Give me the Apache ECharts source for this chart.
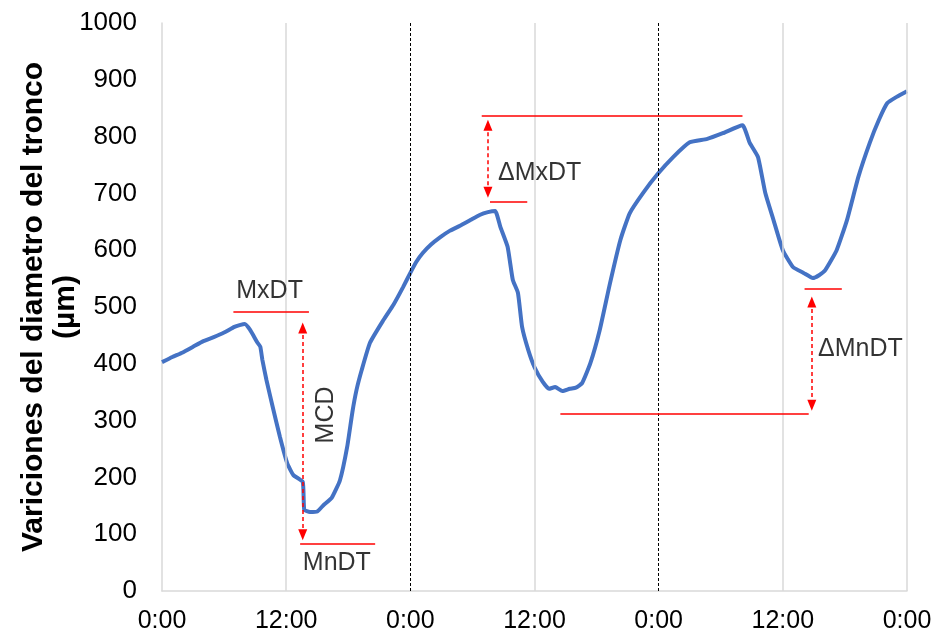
<!DOCTYPE html>
<html>
<head>
<meta charset="utf-8">
<script src="https://cdn.jsdelivr.net/npm/echarts@6/dist/echarts.min.js"></script>
<style>
html,body{margin:0;padding:0;background:#fff;}
#chart{width:939px;height:641px;}
</style>
</head>
<body>
<div id="chart"></div>
<script>
// Time in hours from start (3 days), stem diameter variation in µm
var hours = [0,1,2,3,4,5,6,7,7.5,8,8.5,9.2,9.5,9.7,10.1,10.7,11.4,12.1,12.7,13.6,13.75,14.3,15.0,15.6,16.4,17.2,17.9,18.4,18.8,19.3,20.1,21.4,22.4,23.3,24,24.6,25.2,26,26.9,27.8,28.8,29.8,30.7,31.5,32.2,32.7,33.4,33.9,34.4,34.8,35.4,36.0,36.8,37.4,38.0,38.7,39.4,40.0,40.6,41.4,42.3,43.3,44.3,45.2,46.5,47.9,49.4,51.0,52.7,54.2,56.1,56.8,57.6,58.3,59.1,60.0,61.0,62.0,62.9,63.5,64.1,65.2,66.2,67.3,68.4,69.3,70.1,71,72];
var diameter = [403,412,420,430,440,447,455,465,468,470,460,438,430,407,371,324,271,225,204,192,143,139,140,151,164,195,254,315,354,389,437,477,505,535,560,580,595,610,623,634,643,653,662,667,669,641,606,548,525,465,424,394,368,356,359,352,356,358,366,401,459,542,618,665,701,734,764,790,796,806,820,789,764,701,653,600,570,560,551,556,565,600,653,729,789,830,859,870,880];

var xTicks = [0,12,24,36,48,60,72];
var yTicks = [0,100,200,300,400,500,600,700,800,900,1000];
var noonLines = [12,36,60,72];
var midnightLines = [24,48];

// Annotation reference lines: [startHour, endHour, value]
var refLines = [
  [6.9, 14.2, 491],   // MxDT
  [13.35, 20.6, 83],  // MnDT
  [30.9, 56.1, 836],  // ΔMxDT upper
  [31.7, 35.3, 685],  // ΔMxDT lower
  [38.5, 62.5, 312],  // ΔMnDT lower
  [62.1, 65.7, 532]   // ΔMnDT upper
];
// Double arrows: [hour, fromValue, toValue]
var arrows = [
  [13.6, 463, 99],    // MCD
  [31.5, 820, 702],   // ΔMxDT
  [62.8, 509, 327]    // ΔMnDT
];
// Text labels: [hour, value, text, rotate]
var labels = [
  [10.4, 528, 'MxDT', 0],
  [16.9, 49, 'MnDT', 0],
  [15.85, 310, 'MCD', 90],
  [36.5, 736, '\u0394MxDT', 0],
  [67.5, 426, '\u0394MnDT', 0]
];

var font = '"Liberation Sans", Arial, sans-serif';
var lineData = hours.map(function(h,i){return [h, diameter[i]];});

var gridMarks = noonLines.map(function(h){
  return {xAxis:h, lineStyle:{color:'#d9d9d9', width:1.5, type:'solid'}};
}).concat(midnightLines.map(function(h){
  return {xAxis:h, lineStyle:{color:'#000', width:1, type:[3,2]}};
}));

var refMarks = refLines.map(function(r){
  return [{coord:[r[0], r[2]]},{coord:[r[1], r[2]]}];
});
var arrowMarks = arrows.map(function(a){
  return [{coord:[a[0], a[1]]},{coord:[a[0], a[2]]}];
});

var chart = echarts.init(document.getElementById('chart'));
chart.setOption({
  animation:false,
  backgroundColor:'#fff',
  grid:{left:162, right:32, top:23, bottom:50, containLabel:false, outerBoundsMode:'none'},
  xAxis:{
    type:'value', min:0, max:72, interval:12,
    axisLine:{show:true, lineStyle:{color:'#d9d9d9', width:1.5}},
    axisTick:{show:false},
    splitLine:{show:false},
    axisLabel:{
      color:'#000', fontFamily:font, fontSize:25, margin:18,
      formatter:function(v){ return (v%24===0 ? '0' : '12') + ':00'; }
    }
  },
  yAxis:{
    type:'value', min:0, max:1000, interval:100,
    name:'Variciones del diametro del tronco\n(\u00b5m)',
    nameLocation:'middle', nameRotate:90, nameGap:80, nameMoveOverlap:false,
    nameTextStyle:{color:'#000', fontFamily:font, fontSize:30, fontWeight:'bold', lineHeight:32, align:'center'},
    axisLine:{show:true, lineStyle:{color:'#d9d9d9', width:1.5}},
    axisTick:{show:false},
    splitLine:{show:false},
    axisLabel:{color:'#000', fontFamily:font, fontSize:26, margin:25,
      formatter:function(v){ return String(v); }}
  },
  series:[
    {
      type:'line', data:[], z:1, silent:true,
      markLine:{silent:true, symbol:['none','none'], label:{show:false}, animation:false, data:gridMarks}
    },
    {
      type:'line', data:lineData, z:3, symbol:'none', smooth:0.15,
      lineStyle:{color:'#4472C4', width:4}
    },
    {
      type:'line', data:[], z:4, silent:true,
      markLine:{silent:true, symbol:['none','none'], label:{show:false}, animation:false,
        lineStyle:{color:'#FF0000', width:1.5, type:'solid'}, data:refMarks}
    },
    {
      type:'line', data:[], z:4, silent:true,
      markLine:{silent:true, symbol:['triangle','triangle'], symbolSize:[9,11], label:{show:false}, animation:false,
        lineStyle:{color:'#FF0000', width:1.5, type:[4,3]}, itemStyle:{color:'#FF0000'}, data:arrowMarks}
    },
    {
      type:'scatter', z:5, silent:true, symbolSize:0,
      data:labels.map(function(l){return {value:[l[0], l[1]], name:l[2], label:{rotate:l[3]}};}),
      label:{show:true, position:'inside', formatter:'{b}', color:'#000', fontFamily:font, fontSize:25}
    }
  ]
});
</script>
</body>
</html>
